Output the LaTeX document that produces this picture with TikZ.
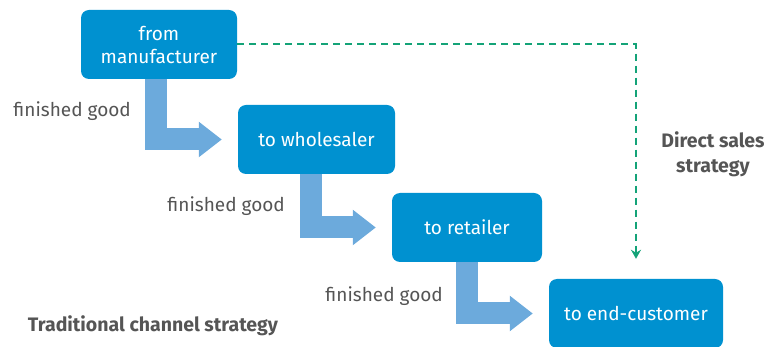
\documentclass[tikz,border=0pt]{standalone}
\usepackage{fontspec}
\setmainfont{Fira Sans}
\definecolor{boxblue}{RGB}{0,145,208}
\definecolor{flowblue}{RGB}{108,170,220}
\definecolor{directgreen}{RGB}{20,163,120}
\definecolor{labelgray}{RGB}{85,85,85}
\usetikzlibrary{arrows.meta, positioning}

\begin{document}
\begin{tikzpicture}[
    x=1pt, y=-1pt,
    stage/.style={rounded corners=8pt, fill=boxblue, text=white, align=center, minimum height=69pt, font=\fontsize{19}{23}\selectfont, inner sep=0pt},
    flowlabel/.style={text=labelgray, font=\fontsize{19}{23}\selectfont, anchor=east, inner sep=0pt},
    strategy/.style={text=labelgray, font=\fontsize{19.5}{25}\selectfont\bfseries, align=center},
    fat/.style={draw=flowblue, line width=22pt, -{Triangle[length=23pt, width=34pt]}, shorten >=16pt},
    direct/.style={draw=directgreen, line width=2pt, dash pattern=on 7pt off 5pt, -{Stealth[length=9pt, width=10pt]}, shorten >=20pt}
]
  \useasboundingbox (0,0) rectangle (769,347);

  \node[stage, minimum width=156pt] (M) at (159, 44.5) {from\\manufacturer};
  \node[stage, minimum width=157pt] (W) at (316.5, 139.5) {to wholesaler};
  \node[stage, minimum width=150pt] (R) at (467, 227.5) {to retailer};
  \node[stage, minimum width=174pt] (E) at (636, 313.5) {to end-customer};

  % traditional channel
  \draw[fat] ([xshift=-3pt]M.south) |- (W.west);
  \draw[fat] ([xshift=-6pt]W.south) |- (R.west);
  \draw[fat] (R.south) |- (E.west);

  \node[flowlabel] (FG1) at (131, 111) {finished good};
  \node[flowlabel] (FG2) at (285, 206) {finished good};
  \node[flowlabel] (FG3) at (443, 296) {finished good};

  % direct sales
  \draw[direct] (M.east) -| (E.north);

  \node[strategy] (TC) at (153, 326) {Traditional channel strategy};
  \node[strategy] (DS) at (713, 154) {Direct sales\\strategy};
\end{tikzpicture}
\end{document}
